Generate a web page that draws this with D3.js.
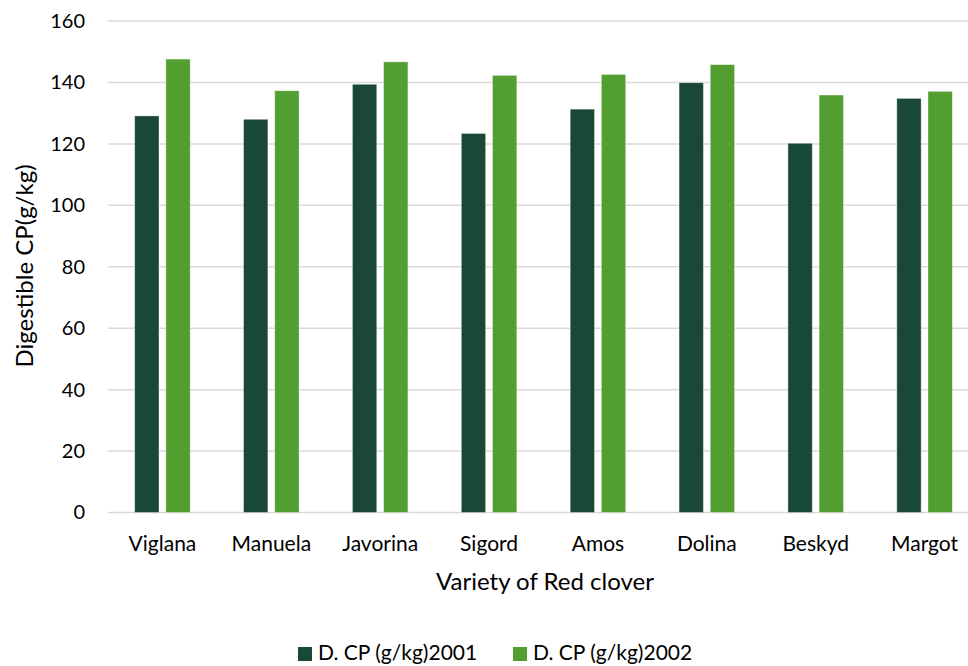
<!DOCTYPE html>
<html>
<head>
<meta charset="utf-8">
<script src="https://cdn.jsdelivr.net/npm/d3@7"></script>
<style>
  html, body { margin: 0; padding: 0; background: #fff; }
  svg { display: block; font-family: Lato, "Open Sans", sans-serif; }
</style>
</head>
<body>
<svg id="chart" width="968" height="666"></svg>
<script>
// Red clover varieties and digestible crude protein by year
const varieties = ["Viglana", "Manuela", "Javorina", "Sigord", "Amos", "Dolina", "Beskyd", "Margot"];
const seriesNames = ["D. CP (g/kg)2001", "D. CP (g/kg)2002"];
const cp2001 = [129.1, 128.0, 139.4, 123.4, 131.3, 139.9, 120.2, 134.8];
const cp2002 = [147.6, 137.3, 146.7, 142.3, 142.6, 145.8, 135.9, 137.1];
const yTicks = [0, 20, 40, 60, 80, 100, 120, 140, 160];
const colors = ["#1a4836", "#529e31"];

const svg = d3.select("#chart");
const plot = { left: 108, right: 979, top: 21, bottom: 512.5 };

const x0 = d3.scaleBand().domain(varieties).range([plot.left, plot.right]).padding(0);
const groupW = 55.5;
const x1 = d3.scaleBand().domain(seriesNames)
  .range([x0.bandwidth() / 2 - groupW / 2, x0.bandwidth() / 2 + groupW / 2])
  .paddingInner(0.22).paddingOuter(0);
const y = d3.scaleLinear().domain([0, 160]).range([plot.bottom, plot.top]);
const color = d3.scaleOrdinal().domain(seriesNames).range(colors);

// horizontal gridlines
svg.append("g")
  .selectAll("line")
  .data(yTicks)
  .join("line")
  .attr("x1", plot.left).attr("x2", plot.right)
  .attr("y1", d => y(d)).attr("y2", d => y(d))
  .attr("stroke", "#d9d9d9").attr("stroke-width", 1.5);

// y axis labels
const yAxis = d3.axisLeft(y).tickValues(yTicks).tickSize(0).tickPadding(0);
const yg = svg.append("g").attr("transform", `translate(85,0)`).call(yAxis);
yg.select(".domain").remove();
yg.selectAll("text")
  .attr("font-size", 20).attr("fill", "#000")
  .attr("font-family", "Lato, 'Open Sans', sans-serif");

// grouped bars
const rows = varieties.map((v, i) => ({ variety: v, values: [cp2001[i], cp2002[i]] }));
const groups = svg.append("g")
  .selectAll("g")
  .data(rows)
  .join("g")
  .attr("transform", d => `translate(${x0(d.variety)},0)`);

groups.selectAll("rect")
  .data(d => d.values.map((v, j) => ({ key: seriesNames[j], value: v })))
  .join("rect")
  .attr("x", d => x1(d.key))
  .attr("width", x1.bandwidth())
  .attr("y", d => y(d.value))
  .attr("height", d => y(0) - y(d.value))
  .attr("fill", d => color(d.key))
  .attr("stroke", "#ffffff").attr("stroke-opacity", 0.45).attr("stroke-width", 0.8);

// x axis labels
const xAxis = d3.axisBottom(x0).tickSize(0).tickPadding(0);
const xg = svg.append("g").attr("transform", `translate(0,${plot.bottom + 24})`).call(xAxis);
xg.select(".domain").remove();
xg.selectAll("text")
  .attr("font-size", 21).attr("fill", "#000")
  .attr("font-family", "Lato, 'Open Sans', sans-serif");

// axis titles
svg.append("text")
  .attr("x", 545).attr("y", 590)
  .attr("text-anchor", "middle")
  .attr("font-size", 24).attr("fill", "#000")
  .text("Variety of Red clover");

svg.append("text")
  .attr("transform", "translate(33,266) rotate(-90)")
  .attr("text-anchor", "middle")
  .attr("font-size", 24).attr("fill", "#000")
  .text("Digestible CP(g/kg)");

// legend
const legendX = [298, 513];
const legend = svg.append("g")
  .selectAll("g")
  .data(seriesNames)
  .join("g")
  .attr("transform", (d, i) => `translate(${legendX[i]},647)`);
legend.append("rect")
  .attr("width", 14).attr("height", 14)
  .attr("fill", d => color(d));
legend.append("text")
  .attr("x", 20).attr("y", 13)
  .attr("font-size", 21).attr("fill", "#000")
  .text(d => d);
</script>
</body>
</html>
